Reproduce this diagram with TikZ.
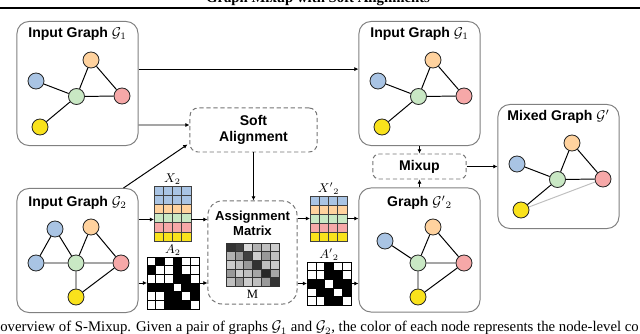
\documentclass[tikz,border=0pt]{standalone}
\usepackage{amsmath,amssymb}
\usepackage{fontspec}
\setmainfont{Liberation Serif}
\setsansfont{Liberation Sans}
\usepackage{xcolor}
\usepackage{tikz}
\usetikzlibrary{arrows.meta,positioning,calc}

\definecolor{nblue}{HTML}{A9C4E4}
\definecolor{norange}{HTML}{FFD29E}
\definecolor{ngreen}{HTML}{C9E8C4}
\definecolor{npink}{HTML}{F6A8A8}
\definecolor{nyellow}{HTML}{F9E21C}

\begin{document}
\begin{tikzpicture}[
  x=0.025cm, y=-0.025cm,
  font=\sffamily\bfseries\fontsize{10}{11.5}\selectfont,
  gbox/.style={draw=black!50, rounded corners=0.3cm, line width=0.7pt, minimum width=3.025cm, minimum height=3.1cm},
  dbox/.style={draw=black!55, dash pattern=on 3pt off 2pt, line width=0.7pt, align=center},
  gnode/.style={circle, draw=black!85, line width=0.6pt, minimum size=0.4cm, inner sep=0},
  edge/.style={line width=0.7pt},
  arr/.style={-{Latex[length=3pt,width=3pt]}, line width=0.7pt},
  mat/.style={inner sep=0, outer sep=0},
  cell/.style={draw=black!75, line width=0.4pt},
  ttl/.style={inner sep=0},
  lbl/.style={font=\rmfamily\mdseries\fontsize{9}{10}\selectfont, inner sep=1pt}
]
\useasboundingbox (0,0) rectangle (640,334);

% page header and caption
\node[font=\rmfamily\bfseries\fontsize{10.5}{12}\selectfont, anchor=base] (head) at (318,3) {Graph Mixup with Soft Alignments};
\draw[line width=0.8pt] (0,8) -- (640,8);
\node[font=\rmfamily\mdseries\fontsize{10.5}{12}\selectfont, anchor=base west, inner sep=0] (capt) at (0,332) {overview of S-Mixup. Given a pair of graphs $\mathcal{G}_1$ and $\mathcal{G}_2$, the color of each node represents the node-level co};

% graphs with the shape of G1
\foreach \s/\t/\n/\txt in {0/0/in1/{Input Graph $\mathcal{G}_1$}, 342/0/in1r/{Input Graph $\mathcal{G}_1$}, 481/83/mix/{Mixed Graph $\mathcal{G}'$}}{
  \begin{scope}[shift={(\s,\t)}]
  \node[gbox] (\n) at (77.5,83.5) {};
  \node[ttl] at ($(\n.north)+(0,13)$) {\txt};
  \node[gnode, fill=nblue] (\n-b) at (36,81) {};
  \node[gnode, fill=norange] (\n-o) at (91,60) {};
  \node[gnode, fill=ngreen] (\n-g) at (76.5,96.5) {};
  \node[gnode, fill=npink] (\n-p) at (122,96) {};
  \node[gnode, fill=nyellow] (\n-y) at (40,127) {};
  \draw[edge] (\n-b) -- (\n-g) (\n-o) -- (\n-g) (\n-o) -- (\n-p) (\n-g) -- (\n-p) (\n-g) -- (\n-y);
  \end{scope}
}
\draw[edge, black!25] (mix-y) -- (mix-p);

% input graph G2
\node[gbox] (in2) at (77.5,250.5) {};
\node[ttl] at ($(in2.north)+(0,15)$) {Input Graph $\mathcal{G}_2$};
\node[gnode, fill=nblue] (g2-bt) at (55,229) {};
\node[gnode, fill=norange] (g2-o) at (91,227) {};
\node[gnode, fill=nblue] (g2-bl) at (36,263) {};
\node[gnode, fill=ngreen] (g2-g) at (76,263) {};
\node[gnode, fill=npink] (g2-p) at (121,263) {};
\node[gnode, fill=nyellow] (g2-y) at (76,297) {};
\draw[edge] (g2-bt) -- (g2-bl) (g2-bt) -- (g2-g) (g2-o) -- (g2-g) (g2-o) -- (g2-p)
  (g2-bl) -- (g2-g) (g2-g) -- (g2-p) (g2-g) -- (g2-y) (g2-y) -- (g2-p);

% graph G'2
\node[gbox] (out2) at (419.5,250) {};
\node[ttl] at ($(out2.north)+(0,15)$) {Graph ${\mathcal{G}'}_2$};
\node[gnode, fill=nblue] (h2-b) at (385,241) {};
\node[gnode, fill=norange] (h2-o) at (433,227) {};
\node[gnode, fill=ngreen] (h2-g) at (418,263) {};
\node[gnode, fill=npink] (h2-p) at (464,263) {};
\node[gnode, fill=nyellow] (h2-y) at (418,297) {};
\draw[edge] (h2-b) -- (h2-g) (h2-o) -- (h2-g) (h2-o) -- (h2-p) (h2-g) -- (h2-p) (h2-g) -- (h2-y) (h2-y) -- (h2-p);

% dashed steps
\node[dbox, minimum width=3.175cm, minimum height=1.1cm, rounded corners=0.2cm] (soft) at (253.5,130) {Soft\\Alignment};
\node[dbox, minimum width=2.225cm, minimum height=2.575cm, rounded corners=0.35cm] (assign) at (252.5,252.5) {};
\node[ttl, align=center, font=\sffamily\bfseries\fontsize{9.3}{11}\selectfont] (assignt) at (252.5,223.5) {Assignment\\Matrix};
\node[dbox, minimum width=2.325cm, minimum height=0.625cm, rounded corners=0.15cm] (mixup) at (419.5,166.5) {Mixup};

% matrices
\node[mat, minimum width=0.925cm, minimum height=1.375cm] (x2) at (172.5,213.5) {};
\node[mat, minimum width=1.3cm, minimum height=1.3cm] (a2) at (173,283) {};
\node[mat, minimum width=1.325cm, minimum height=1.075cm] (mm) at (252.5,264.5) {};
\node[mat, minimum width=0.925cm, minimum height=1.125cm] (x2p) at (328.5,218.5) {};
\node[mat, minimum width=1.1cm, minimum height=1.075cm] (a2p) at (329,283.5) {};

\foreach \c [count=\i from 0] in {nblue,nblue,norange,ngreen,npink,nyellow}
  \foreach \j in {0,...,3}
    \draw[cell, fill=\c] ($(x2.north west)+(\j*9.25,\i*9.17)$) rectangle +(9.25,9.17);
\foreach \c [count=\i from 0] in {nblue,norange,ngreen,npink,nyellow}
  \foreach \j in {0,...,3}
    \draw[cell, fill=\c] ($(x2p.north west)+(\j*9.25,\i*9)$) rectangle +(9.25,9);
\foreach \row [count=\i from 0] in {{0,1,0,1,0,0},{1,0,0,1,0,0},{0,0,0,1,1,0},{1,1,1,0,1,1},{0,0,1,1,0,1},{0,0,1,1,1,0}}
  \foreach \v [count=\j from 0] in \row
    \draw[cell, draw=black, fill=black!\v00] ($(a2.north west)+(\j*8.67,\i*8.67)$) rectangle +(8.67,8.67);
\foreach \row [count=\i from 0] in {{0,0,1,0,0},{0,0,1,1,0},{1,1,0,1,1},{0,1,1,0,1},{0,0,1,1,0}}
  \foreach \v [count=\j from 0] in \row
    \draw[cell, draw=black, fill=black!\v00] ($(a2p.north west)+(\j*8.8,\i*8.6)$) rectangle +(8.8,8.6);
\foreach \row [count=\i from 0] in {{80,75,15,30,25,20},{30,40,75,20,40,25},{20,25,40,80,25,20},{40,20,25,35,85,35},{25,40,20,25,40,80}}
  \foreach \v [count=\j from 0] in \row
    \draw[cell, draw=black!80, fill=black!\v] ($(mm.north west)+(\j*8.83,\i*8.6)$) rectangle +(8.83,8.6);

\node[lbl, above=0pt of x2] (x2l) {$X_2$};
\node[lbl, above=0pt of a2] (a2l) {$A_2$};
\node[lbl, above=0pt of x2p] (x2pl) {${X'}_2$};
\node[lbl, above=0pt of a2p] (a2pl) {${A'}_2$};
\node[lbl, below=2pt of mm] (mml) {M};

% connectors
\draw[arr] ([yshift=0.36cm]in1.east) -- ([yshift=0.36cm]in1r.west);
\draw[arr] ($(in1.east)+(0,41.5)$) -- ($(soft.west)+(0,-5)$);
\draw[arr] ($(in2.north east)+(-15,0)$) -- ($(soft.south west)+(-2,-8)$);
\draw[arr] (soft.south) -- (soft.south |- assign.north);
\draw[arr] ($(in2.east)+(0,-31)$) -- ($(x2.west)+(0,6)$);
\draw[arr] (a2.west -| in2.east) -- (a2.west);
\draw[arr] ($(x2.east)+(0,6)$) -- ($(assign.west)+(0,-33)$);
\draw[arr] (a2.east) -- (a2.east -| assign.west);
\draw[arr] (x2p.west -| assign.east) -- (x2p.west);
\draw[arr] (a2p.west -| assign.east) -- (a2p.west);
\draw[arr] (x2p.east) -- (x2p.east -| out2.west);
\draw[arr] (a2p.east) -- (a2p.east -| out2.west);
\draw[arr] (in1r.south) -- (in1r.south |- mixup.north);
\draw[arr] (out2.north) -- (out2.north |- mixup.south);
\draw[arr] (mixup.east) -- (mixup.east -| mix.west);
\end{tikzpicture}
\end{document}
